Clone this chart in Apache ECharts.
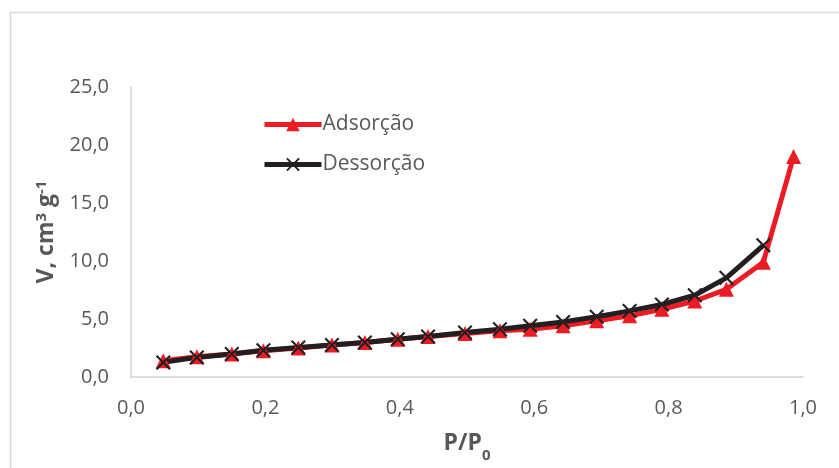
<!DOCTYPE html>
<html>
<head>
<meta charset="utf-8">
<script src="https://cdn.jsdelivr.net/npm/echarts@6/dist/echarts.min.js"></script>
<style>html,body{margin:0;padding:0;background:#fff;}#c{width:839px;height:468px;}</style>
</head>
<body>
<div id="c"></div>
<script>
var adsX = [0.048, 0.098, 0.150, 0.197, 0.249, 0.299, 0.348, 0.397, 0.442, 0.497, 0.549, 0.594, 0.643, 0.693, 0.742, 0.790, 0.839, 0.886, 0.941, 0.986];
var adsY = [1.40, 1.74, 1.98, 2.26, 2.49, 2.75, 2.98, 3.26, 3.49, 3.75, 3.98, 4.12, 4.41, 4.84, 5.27, 5.84, 6.55, 7.56, 9.90, 19.0];
var desX = [0.048, 0.098, 0.150, 0.197, 0.249, 0.299, 0.348, 0.397, 0.442, 0.497, 0.549, 0.594, 0.643, 0.693, 0.742, 0.790, 0.839, 0.886, 0.941];
var desY = [1.26, 1.69, 1.98, 2.30, 2.55, 2.75, 2.98, 3.26, 3.49, 3.84, 4.12, 4.41, 4.75, 5.20, 5.70, 6.25, 7.05, 8.55, 11.35];
var seriesNames = ['Adsorção', 'Dessorção'];

function pairs(xs, ys) { return xs.map(function (x, i) { return [x, ys[i]]; }); }
function fmt(v) { return v.toFixed(1).replace('.', ','); }

var textColor = '#595959';
var fontFam = 'Open Sans, Noto Sans, sans-serif';
var crossPath = 'path://M0,1L1,0L5,4L9,0L10,1L6,5L10,9L9,10L5,6L1,10L0,9L4,5Z';

var chart = echarts.init(document.getElementById('c'), null, {renderer: 'canvas'});
chart.setOption({
  animation: false,
  backgroundColor: '#fff',
  graphic: [{
    type: 'rect', shape: {x: 10.5, y: 12.5, width: 840, height: 470},
    style: {fill: 'none', stroke: '#d9d9d9', lineWidth: 1.5}, silent: true, z: -1
  }],
  grid: {left: 131, right: 36, top: 87, bottom: 90},
  legend: {
    orient: 'vertical', left: 257, top: 109, itemGap: 19,
    itemWidth: 57, itemHeight: 17,
    lineStyle: {width: 5},
    textStyle: {color: textColor, fontSize: 21, fontFamily: fontFam, padding: [0, 0, 0, -4]},
    data: seriesNames
  },
  xAxis: {
    type: 'value', min: 0, max: 1, interval: 0.2,
    axisLine: {show: true, lineStyle: {color: '#d0d0d0', width: 1.5}},
    axisTick: {show: false}, splitLine: {show: false},
    axisLabel: {formatter: fmt, color: textColor, fontSize: 20, fontFamily: fontFam, margin: 21},
    name: 'P/P{sub|0}', nameLocation: 'middle', nameGap: 55,
    nameTextStyle: {
      color: textColor, fontSize: 23, fontWeight: 'bold', fontFamily: fontFam,
      rich: {sub: {fontSize: 15, fontWeight: 'bold', color: textColor, fontFamily: fontFam, verticalAlign: 'bottom', lineHeight: 14, padding: [0, 0, -8, 0]}}
    }
  },
  yAxis: {
    type: 'value', min: 0, max: 25, interval: 5,
    axisLine: {show: true, lineStyle: {color: '#d0d0d0', width: 1.5}},
    axisTick: {show: false}, splitLine: {show: false},
    axisLabel: {formatter: fmt, color: textColor, fontSize: 20, fontFamily: fontFam, margin: 22},
    name: 'V, cm{sup|3} g{sup|-1}', nameLocation: 'middle', nameGap: 67,
    nameTextStyle: {
      color: textColor, fontSize: 23, fontWeight: 'bold', fontFamily: fontFam,
      rich: {sup: {fontSize: 15, fontWeight: 'bold', color: textColor, fontFamily: fontFam, verticalAlign: 'top', lineHeight: 12, padding: [0, 0, 9, 0]}}
    }
  },
  series: [{
    name: seriesNames[0], type: 'line', data: pairs(adsX, adsY),
    lineStyle: {color: '#ED1C24', width: 5},
    itemStyle: {color: '#ED1C24'},
    symbol: 'triangle', symbolSize: 15, showAllSymbol: true
  }, {
    name: seriesNames[1], type: 'line', data: pairs(desX, desY),
    lineStyle: {color: '#231F20', width: 5},
    itemStyle: {color: '#231F20'},
    symbol: crossPath, symbolSize: 15, showAllSymbol: true
  }]
});
</script>
</body>
</html>
